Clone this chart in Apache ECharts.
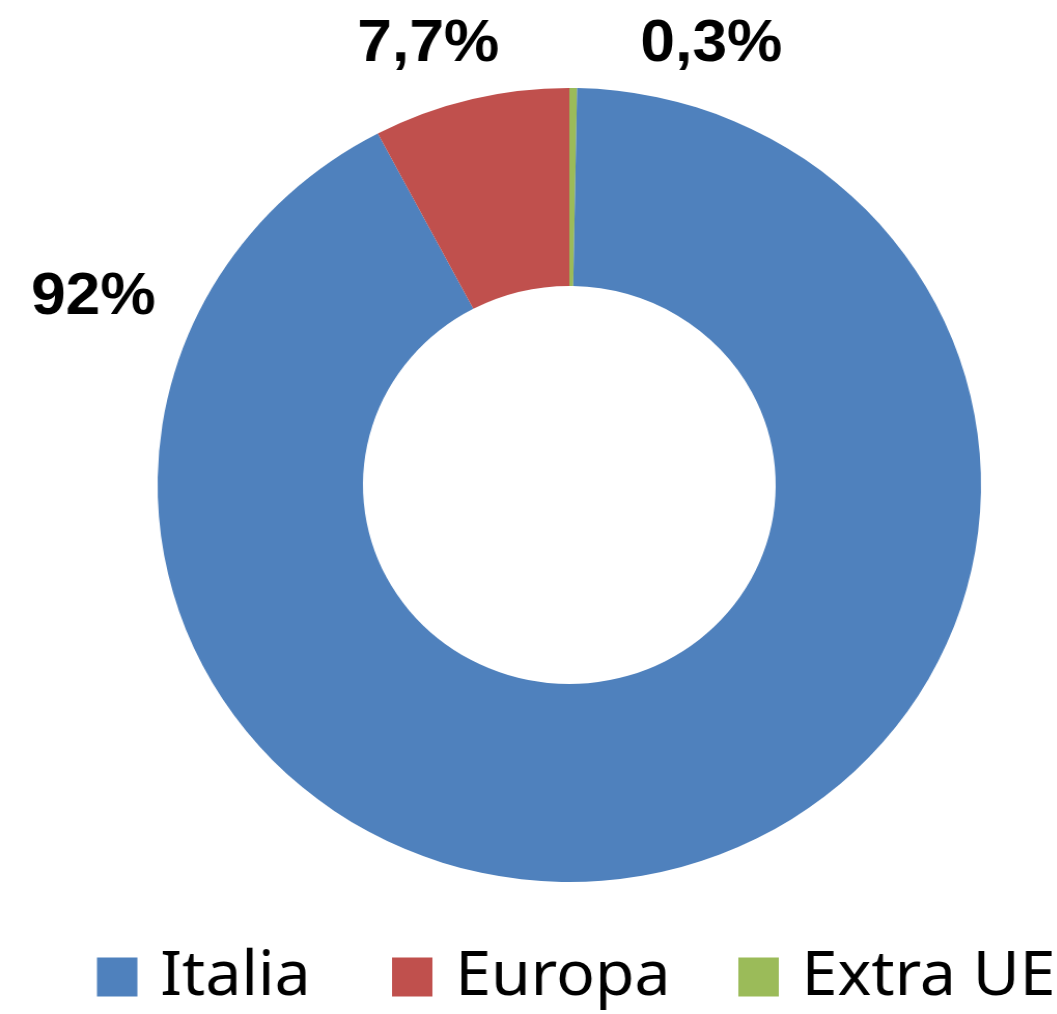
<!DOCTYPE html>
<html>
<head>
<meta charset="utf-8">
<title>Ripartizione geografica</title>
<script src="https://cdn.jsdelivr.net/npm/echarts@6/dist/echarts.min.js"></script>
<style>
  html, body { margin: 0; padding: 0; background: #ffffff; overflow: hidden; }
  /* the chart is drawn slightly narrower and stretched horizontally */
  #chart { width: 1019px; height: 1014px; transform: scaleX(1.037); transform-origin: 0 0; }
</style>
</head>
<body>
<div id="chart"></div>
<script>
// categories and shares (percent)
const categories = ['Extra UE', 'Italia', 'Europa'];
const shares = [0.3, 92, 7.7];
const colors = ['#9BBB59', '#4F81BD', '#C0504D'];
const legendOrder = ['Italia', 'Europa', 'Extra UE'];

// label anchor points (chart pixels) for each category
const labelAnchors = {
  'Italia': [90, 297],
  'Europa': [413, 44],
  'Extra UE': [686, 44]
};
const legendLefts = [93.5, 378, 712];

const chart = echarts.init(document.getElementById('chart'), null, { renderer: 'canvas' });

const pieData = categories.map((name, i) => ({
  name: name,
  value: shares[i],
  itemStyle: { color: colors[i] }
}));

const legendCommon = {
  orient: 'horizontal',
  top: 946,
  padding: 0,
  itemWidth: 39,
  itemHeight: 39,
  icon: 'rect',
  selectedMode: false,
  textStyle: {
    fontFamily: 'Noto Sans',
    fontSize: 62,
    lineHeight: 62,
    color: '#000000',
    padding: [0, 0, 0, 17]
  }
};

chart.setOption({
  backgroundColor: '#ffffff',
  animation: false,
  legend: legendOrder.map((name, i) => Object.assign({}, legendCommon, {
    left: legendLefts[i],
    data: [name]
  })),
  series: [{
    type: 'pie',
    center: [549, 485],
    radius: [199, 397],
    startAngle: 90,
    clockwise: true,
    avoidLabelOverlap: false,
    data: pieData,
    emphasis: { disabled: true },
    label: {
      show: true,
      position: 'outside',
      fontFamily: 'Liberation Sans, Arial, sans-serif',
      fontWeight: 'bold',
      fontSize: 60,
      color: '#000000',
      formatter: p => String(p.value).replace('.', ',') + '%'
    },
    labelLine: { show: false },
    labelLayout: params => {
      const name = categories[params.dataIndex];
      const pt = labelAnchors[name];
      return { x: pt[0], y: pt[1], align: 'center', verticalAlign: 'middle' };
    }
  }]
});
</script>
</body>
</html>
